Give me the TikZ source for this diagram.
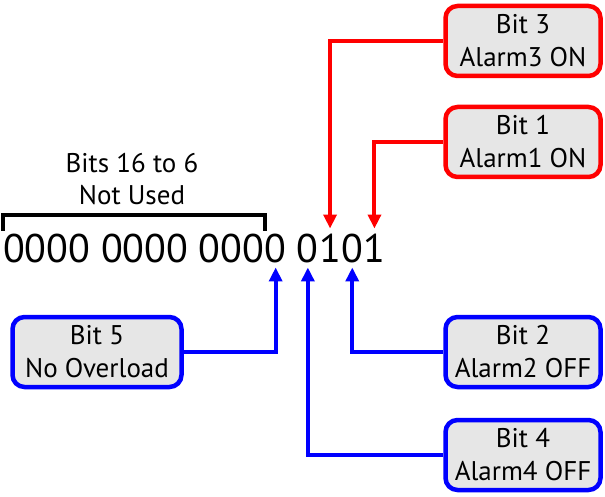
\documentclass[tikz,border=0pt]{standalone}
\usepackage{fontspec}
\setmainfont{PT Sans}
\usetikzlibrary{arrows.meta,positioning}
\definecolor{alarmred}{RGB}{255,0,0}
\definecolor{bitblue}{RGB}{0,0,255}
\definecolor{boxgray}{RGB}{230,230,230}
\tikzset{
  bitbox/.style={draw, line width=4.5pt, rounded corners=12pt, fill=boxgray,
    minimum width=155pt, minimum height=70pt, inner sep=0pt, align=center,
    font=\fontsize{27}{33}\selectfont},
  redbox/.style={bitbox, draw=alarmred},
  bluebox/.style={bitbox, draw=bitblue},
  digit/.style={inner sep=0pt, outer ysep=5pt, anchor=base west,
    font=\fontsize{40}{40}\selectfont},
  redarrow/.style={alarmred, line width=4pt, -{Triangle[length=14pt,width=13pt]}},
  bluearrow/.style={bitblue, line width=4pt, -{Triangle[length=14pt,width=13pt]}}
}
\begin{document}
\begin{tikzpicture}[x=1pt,y=-1pt]
  \useasboundingbox (0,0) rectangle (605,497);
  % the 16 bit word
  \node[digit] (n0) at (3,262) {0000 0000 000};
  \node[digit] (d5) at (n0.base east) {0};
  \node[digit] (d4) at ([xshift=10pt]d5.base east) {0};
  \node[digit] (d3) at (d4.base east) {1};
  \node[digit] (d2) at (d3.base east) {0};
  \node[digit] (d1) at (d2.base east) {1};
  % unused bits
  \draw[line width=4pt] ([yshift=-2pt]n0.north west) -- ++(0pt,16pt) -| ([yshift=-2pt]n0.north east);
  \node[align=center, font=\fontsize{27}{32}\selectfont] (unused) at (132,179) {Bits 16 to 6\\Not Used};
  % boxes
  \node[redbox] (bit3) at (523,41) {Bit 3\\Alarm3 ON};
  \node[redbox] (bit1) at (523,142) {Bit 1\\Alarm1 ON};
  \node[bluebox, minimum width=169pt] (bit5) at (97,352) {Bit 5\\No Overload};
  \node[bluebox] (bit2) at (523,352) {Bit 2\\Alarm2 OFF};
  \node[bluebox] (bit4) at (523,455) {Bit 4\\Alarm4 OFF};
  % arrows
  \draw[redarrow] (bit3.west) -| (d3.north);
  \draw[redarrow] (bit1.west) -| (d1.north);
  \draw[bluearrow] (bit5.east) -| (d5.south);
  \draw[bluearrow] (bit2.west) -| (d2.south);
  \draw[bluearrow] (bit4.west) -| (d4.south);
\end{tikzpicture}
\end{document}
